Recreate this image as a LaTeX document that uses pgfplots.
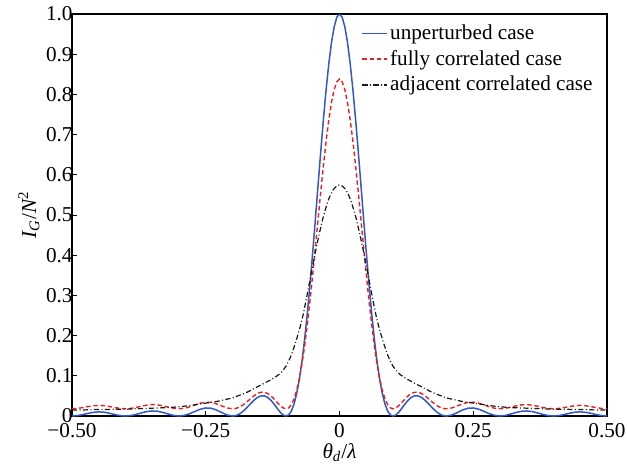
\documentclass[border=0pt]{standalone}
\usepackage{fontspec}
\setmainfont{Liberation Serif}
\usepackage{pgfplots}
\usepackage{pgfplotstable}
\pgfplotsset{compat=1.18}
\definecolor{cblue}{RGB}{48,88,200}
\definecolor{cred}{RGB}{235,30,30}
\definecolor{cblack}{RGB}{25,25,25}

\pgfplotstableread{
x b r
-0.50 0.0000 0.0180
-0.49 0.0010 0.0188
-0.48 0.0035 0.0208
-0.47 0.0066 0.0234
-0.46 0.0092 0.0255
-0.45 0.0103 0.0264
-0.44 0.0094 0.0257
-0.43 0.0069 0.0236
-0.42 0.0037 0.0210
-0.41 0.0010 0.0189
-0.40 0.0000 0.0180
-0.39 0.0011 0.0189
-0.38 0.0040 0.0213
-0.37 0.0078 0.0244
-0.36 0.0111 0.0271
-0.35 0.0126 0.0283
-0.34 0.0118 0.0277
-0.33 0.0088 0.0252
-0.32 0.0049 0.0220
-0.31 0.0014 0.0191
-0.30 0.0000 0.0180
-0.29 0.0015 0.0193
-0.28 0.0058 0.0228
-0.27 0.0116 0.0275
-0.26 0.0170 0.0320
-0.25 0.0200 0.0344
-0.24 0.0193 0.0338
-0.23 0.0150 0.0303
-0.22 0.0085 0.0250
-0.21 0.0025 0.0201
-0.200 0.0000 0.0180
-0.195 0.0007 0.0186
-0.190 0.0030 0.0205
-0.185 0.0068 0.0236
-0.180 0.0120 0.0279
-0.175 0.0183 0.0330
-0.170 0.0253 0.0387
-0.165 0.0323 0.0445
-0.160 0.0390 0.0500
-0.155 0.0446 0.0545
-0.150 0.0485 0.0578
-0.145 0.0504 0.0593
-0.140 0.0499 0.0589
-0.135 0.0469 0.0564
-0.130 0.0415 0.0520
-0.125 0.0341 0.0460
-0.120 0.0255 0.0389
-0.115 0.0165 0.0315
-0.110 0.0083 0.0248
-0.105 0.0023 0.0199
-0.100 0.0000 0.0180
-0.095 0.0028 0.0203
-0.090 0.0123 0.0281
-0.085 0.0296 0.0423
-0.080 0.0559 0.0638
-0.075 0.0918 0.0932
-0.070 0.1375 0.1308
-0.065 0.1931 0.1763
-0.060 0.2576 0.2292
-0.055 0.3300 0.2886
-0.050 0.4086 0.3531
-0.045 0.4914 0.4209
-0.040 0.5758 0.4902
-0.035 0.6593 0.5586
-0.030 0.7390 0.6240
-0.025 0.8122 0.6840
-0.020 0.8763 0.7366
-0.015 0.9288 0.7796
-0.010 0.9679 0.8116
-0.005 0.9919 0.8313
0.000 1.0000 0.8380
0.005 0.9919 0.8313
0.010 0.9679 0.8116
0.015 0.9288 0.7796
0.020 0.8763 0.7366
0.025 0.8122 0.6840
0.030 0.7390 0.6240
0.035 0.6593 0.5586
0.040 0.5758 0.4902
0.045 0.4914 0.4209
0.050 0.4086 0.3531
0.055 0.3300 0.2886
0.060 0.2576 0.2292
0.065 0.1931 0.1763
0.070 0.1375 0.1308
0.075 0.0918 0.0932
0.080 0.0559 0.0638
0.085 0.0296 0.0423
0.090 0.0123 0.0281
0.095 0.0028 0.0203
0.100 0.0000 0.0180
0.105 0.0023 0.0199
0.110 0.0083 0.0248
0.115 0.0165 0.0315
0.120 0.0255 0.0389
0.125 0.0341 0.0460
0.130 0.0415 0.0520
0.135 0.0469 0.0564
0.140 0.0499 0.0589
0.145 0.0504 0.0593
0.150 0.0485 0.0578
0.155 0.0446 0.0545
0.160 0.0390 0.0500
0.165 0.0323 0.0445
0.170 0.0253 0.0387
0.175 0.0183 0.0330
0.180 0.0120 0.0279
0.185 0.0068 0.0236
0.190 0.0030 0.0205
0.195 0.0007 0.0186
0.200 0.0000 0.0180
0.21 0.0025 0.0201
0.22 0.0085 0.0250
0.23 0.0150 0.0303
0.24 0.0193 0.0338
0.25 0.0200 0.0344
0.26 0.0170 0.0320
0.27 0.0116 0.0275
0.28 0.0058 0.0228
0.29 0.0015 0.0193
0.30 0.0000 0.0180
0.31 0.0014 0.0191
0.32 0.0049 0.0220
0.33 0.0088 0.0252
0.34 0.0118 0.0277
0.35 0.0126 0.0283
0.36 0.0111 0.0271
0.37 0.0078 0.0244
0.38 0.0040 0.0213
0.39 0.0011 0.0189
0.40 0.0000 0.0180
0.41 0.0010 0.0189
0.42 0.0037 0.0210
0.43 0.0069 0.0236
0.44 0.0094 0.0257
0.45 0.0103 0.0264
0.46 0.0092 0.0255
0.47 0.0066 0.0234
0.48 0.0035 0.0208
0.49 0.0010 0.0188
0.50 0.0000 0.0180
}\mainT

\pgfplotstableread{
x k
-0.50 0.015
-0.48 0.015
-0.46 0.016
-0.44 0.016
-0.42 0.017
-0.40 0.017
-0.38 0.018
-0.36 0.019
-0.34 0.020
-0.32 0.021
-0.30 0.023
-0.28 0.026
-0.27 0.028
-0.26 0.030
-0.25 0.032
-0.24 0.034
-0.23 0.036
-0.22 0.039
-0.21 0.042
-0.20 0.045
-0.19 0.050
-0.18 0.055
-0.17 0.061
-0.16 0.068
-0.15 0.075
-0.14 0.082
-0.13 0.089
-0.12 0.097
-0.11 0.107
-0.10 0.124
-0.09 0.152
-0.08 0.192
-0.07 0.240
-0.06 0.305
-0.05 0.375
-0.04 0.440
-0.03 0.497
-0.02 0.540
-0.01 0.566
0.00 0.575
0.01 0.566
0.02 0.540
0.03 0.497
0.04 0.440
0.05 0.375
0.06 0.305
0.07 0.240
0.08 0.192
0.09 0.152
0.10 0.124
0.11 0.107
0.12 0.097
0.13 0.089
0.14 0.082
0.15 0.075
0.16 0.068
0.17 0.061
0.18 0.055
0.19 0.050
0.20 0.045
0.21 0.042
0.22 0.039
0.23 0.036
0.24 0.034
0.25 0.032
0.26 0.030
0.27 0.028
0.28 0.026
0.30 0.023
0.32 0.021
0.34 0.020
0.36 0.019
0.38 0.018
0.40 0.017
0.42 0.017
0.44 0.016
0.46 0.016
0.48 0.015
0.50 0.015
}\adjT

\begin{document}
\fontsize{10.6}{12.7}\selectfont
\begin{tikzpicture}
\begin{axis}[
  scale only axis,
  width=267.5pt, height=201pt,
  xmin=-0.5, xmax=0.5, ymin=0, ymax=1,
  xtick={-0.5,-0.25,0,0.25,0.5},
  xticklabels={−0.50,−0.25,0,0.25,0.50},
  ytick={0,0.1,0.2,0.3,0.4,0.5,0.6,0.7,0.8,0.9,1.0},
  yticklabels={0,0.1,0.2,0.3,0.4,0.5,0.6,0.7,0.8,0.9,1.0},
  yticklabel style={xshift=4pt},
  tick align=inside,
  xtick pos=bottom, ytick pos=left,
  major tick length=2.5pt,
  tick style={black, line width=0.5pt},
  axis line style={black, line width=0.6pt},
  xlabel={{\itshape θ}\textsubscript{\itshape d}/{\itshape λ}},
  ylabel={{\itshape I}\textsubscript{\itshape G}/{\itshape N}\textsuperscript{2}},
  xlabel style={yshift=4.5pt},
  ylabel style={yshift=-4pt},
  legend cell align=left,
  legend style={draw=none, fill=none, at={(1,1)}, anchor=north east,
    xshift=-3pt, yshift=-1pt, row sep=0pt,
    nodes={inner sep=1pt, text height=8.4pt, text depth=2.5pt}},
  legend image code/.code={\draw[#1] (0pt,0pt) -- (12.5pt,0pt);},
]
\addplot[cblue, line width=0.75pt] table[x=x, y=b] {\mainT};
\addlegendentry{unperturbed case}
\addplot[cred, line width=0.7pt, dash pattern=on 2.2pt off 1.4pt] table[x=x, y=r] {\mainT};
\addlegendentry{fully correlated case}
\addplot[cblack, line width=0.6pt, smooth, dash pattern=on 2.6pt off 1.2pt on 0.5pt off 1.2pt] table[x=x, y=k] {\adjT};
\addlegendentry{adjacent correlated case}
\end{axis}
\pgfresetboundingbox
\useasboundingbox ([shift={(-36pt,-26pt)}]current axis.south west) rectangle ([shift={(10pt,7pt)}]current axis.north east);
\end{tikzpicture}
\end{document}
